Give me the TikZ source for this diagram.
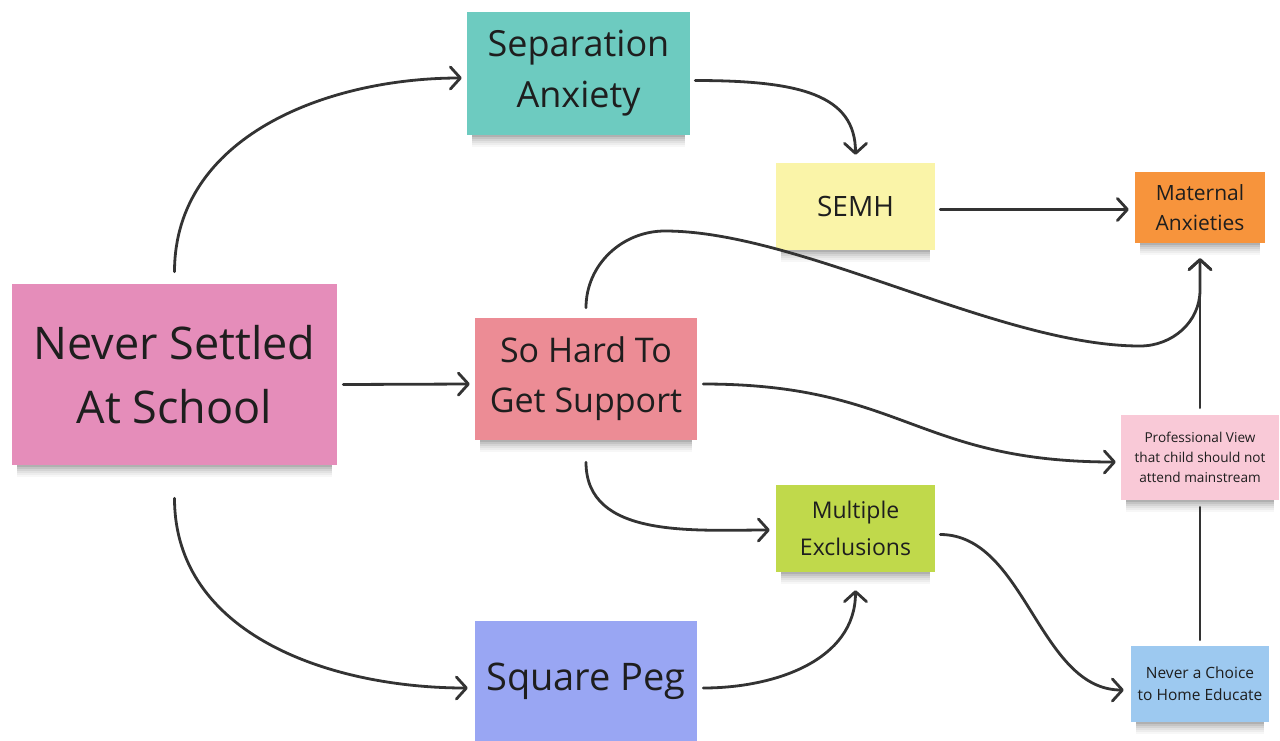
\documentclass[tikz,border=0pt]{standalone}
\usepackage{fontspec}
\setmainfont{Open Sans}
\usetikzlibrary{arrows.meta,backgrounds}
\definecolor{cNS}{HTML}{E58DBA}
\definecolor{cSA}{HTML}{6DCBC0}
\definecolor{cSEMH}{HTML}{FAF4A8}
\definecolor{cMAT}{HTML}{F7943C}
\definecolor{cSH}{HTML}{EC8C95}
\definecolor{cPROF}{HTML}{F9C9D7}
\definecolor{cME}{HTML}{C0D94B}
\definecolor{cSQ}{HTML}{99A6F3}
\definecolor{cNC}{HTML}{9DC9F0}
\definecolor{txt}{HTML}{1E1E1E}
\definecolor{lnc}{HTML}{333333}
\newcommand{\fs}[2]{\fontsize{#1}{#2}\selectfont}
\begin{document}
\begin{tikzpicture}[x=1pt,y=-1pt,
  note/.style={inner sep=0pt, align=center, text=txt},
  conn/.style={draw=lnc, line width=2.8pt, line cap=round},
  arr/.style={-{Straight Barb[length=10pt,width=22pt,line width=2.8pt,round]}}]
\useasboundingbox (0,0) rectangle (1280,740);

\node[note, fill=cNS, minimum width=325, minimum height=181, font=\fs{45}{64}] (ns) at (174.5,374.5) {Never Settled\\At School};
\node[note, fill=cSA, minimum width=223, minimum height=123, font=\fs{36}{52}] (sa) at (578.5,73.5) {Separation\\[-1pt]Anxiety};
\node[note, fill=cSEMH, minimum width=159, minimum height=87, font=\fs{28}{36}] (semh) at (855.5,206.5) {SEMH};
\node[note, fill=cMAT, minimum width=130, minimum height=71, font=\fs{21}{30}] (mat) at (1200,207.5) {Maternal\\Anxieties};
\node[note, fill=cSH, minimum width=222, minimum height=122, font=\fs{34}{50}] (sh) at (586,379) {So Hard To\\Get Support};
\node[note, fill=cPROF, minimum width=158, minimum height=85, font=\fs{13.6}{20}] (prof) at (1200,457.5) {Professional View\\that child should not\\attend mainstream};
\node[note, fill=cME, minimum width=159, minimum height=87, font=\fs{23}{37}] (me) at (855.5,528.5) {Multiple\\Exclusions};
\node[note, fill=cSQ, minimum width=222, minimum height=120, font=\fs{38}{48}] (sq) at (586,681) {Square Peg};
\node[note, fill=cNC, minimum width=138, minimum height=76, font=\fs{15.5}{22}] (nc) at (1200,684) {Never a Choice\\to Home Educate};

% soft shadows under the notes
\begin{scope}[on background layer]
\foreach \n in {ns,sa,semh,mat,sh,prof,me,sq,nc}{
  \foreach \k/\o in {2/0.10,4/0.08,6/0.06,8/0.05,10/0.04,12/0.03}{
    \fill[black, opacity=\o] ([xshift=5pt,yshift=2pt]\n.south west) rectangle ([xshift=-5pt,yshift=-\k pt]\n.south east);
  }
}
\end{scope}

\coordinate (w1) at (665,231);
\coordinate (w2) at (1140,346);
\coordinate (w3) at (1200,290);

% Never Settled -> Separation Anxiety
\draw[conn,arr] ([yshift=12pt]ns.north) to[out=90,in=180] ([xshift=-5pt,yshift=-4.5pt]sa.west);
% Separation Anxiety -> SEMH
\draw[conn,arr] ([xshift=5pt,yshift=-7pt]sa.east) .. controls +(105,0) and +(0,-60) .. ([yshift=8pt]semh.north);
% SEMH -> Maternal
\draw[conn,arr] ([xshift=5pt,yshift=-3pt]semh.east) -- ([xshift=-6pt,yshift=-3pt]semh.east -| mat.west);
% Never Settled -> So Hard
\draw[conn,arr] ([xshift=6pt,yshift=-10pt]ns.east) -- ([xshift=-5pt,yshift=-5pt]sh.west);
% So Hard -> Maternal
\draw[conn,arr] ([yshift=10pt]sh.north) to[out=90,in=180] (w1)
  .. controls +(135,0) and +(-140,0) .. (w2)
  to[out=0,in=-90] (w3) -- ([yshift=-15pt]mat.south);
% So Hard -> Professional View
\draw[conn,arr] ([xshift=6pt,yshift=-5pt]sh.east) .. controls +(200,0) and +(-200,0) .. ([xshift=-5pt,yshift=-4.5pt]prof.west);
% So Hard -> Multiple Exclusions
\draw[conn,arr] ([yshift=-22pt]sh.south) to[out=-90,in=180] ([xshift=-6pt,yshift=-1.5pt]me.west);
% Square Peg -> Multiple Exclusions
\draw[conn,arr] ([xshift=6pt,yshift=-7pt]sq.east) to[out=0,in=-90] ([yshift=-18pt]me.south);
% Never Settled -> Square Peg
\draw[conn,arr] ([yshift=-33pt]ns.south) to[out=-90,in=180] ([xshift=-7pt,yshift=-7pt]sq.west);
% Multiple Exclusions -> Never a Choice
\draw[conn,arr] ([xshift=5pt,yshift=-6pt]me.east) .. controls +(85,0) and +(-85,0) .. ([xshift=-7pt,yshift=-6pt]nc.west);
% Never a Choice -- Professional View
\draw[conn] ([yshift=6pt]nc.north) -- ([yshift=-7pt]prof.south);
% Professional View -> Maternal
\draw[conn,arr] ([yshift=7pt]prof.north) -- ([yshift=-15pt]mat.south);
\end{tikzpicture}
\end{document}
